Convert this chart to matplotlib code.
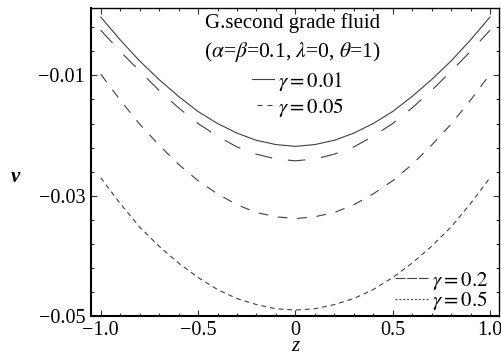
import matplotlib
matplotlib.use("Agg")
import matplotlib.pyplot as plt
import numpy as np
from matplotlib.lines import Line2D

# data
z = [-1.0, -0.9, -0.8, -0.7, -0.6, -0.5, -0.4, -0.3, -0.2, -0.1, 0.0,
     0.1, 0.2, 0.3, 0.4, 0.5, 0.6, 0.7, 0.8, 0.9, 1.0]
v_g001 = [-0.0003, -0.0041, -0.0076, -0.0107, -0.0135, -0.0160, -0.0180, -0.0196, -0.0208, -0.0215, -0.0218,
          -0.0215, -0.0208, -0.0196, -0.0180, -0.0160, -0.0135, -0.0107, -0.0076, -0.0041, -0.0003]
v_g005 = [-0.0025, -0.0060, -0.0093, -0.0125, -0.0154, -0.0180, -0.0201, -0.0219, -0.0231, -0.0239, -0.0242,
          -0.0239, -0.0231, -0.0219, -0.0201, -0.0180, -0.0154, -0.0125, -0.0093, -0.0060, -0.0025]
v_g02 = [-0.0098, -0.0141, -0.0181, -0.0216, -0.0248, -0.0275, -0.0297, -0.0315, -0.0328, -0.0335, -0.0338,
         -0.0335, -0.0328, -0.0315, -0.0297, -0.0275, -0.0248, -0.0216, -0.0181, -0.0141, -0.0098]
v_g05 = [-0.0270, -0.0313, -0.0352, -0.0384, -0.0412, -0.0436, -0.0456, -0.0471, -0.0481, -0.0488, -0.0490,
         -0.0488, -0.0481, -0.0471, -0.0456, -0.0436, -0.0412, -0.0384, -0.0352, -0.0313, -0.0270]
labels = [r"$\gamma=0.01$", r"$\gamma=0.05$", r"$\gamma=0.2$", r"$\gamma=0.5$"]
xticks = [-1.0, -0.5, 0.0, 0.5, 1.0]
xticklabels = ["\u22121.0", "\u22120.5", "0", "0.5", "1.0"]
yticks = [-0.05, -0.03, -0.01]
yticklabels = ["\u22120.05", "\u22120.03", "\u22120.01"]

plt.rcParams["font.family"] = ["Liberation Serif", "DejaVu Serif"]
plt.rcParams["mathtext.fontset"] = "stix"
plt.rcParams["lines.scale_dashes"] = False

fig = plt.figure(figsize=(5.01, 3.57), dpi=100)
ax = fig.add_axes([0.1816, 0.1148, 0.8144, 0.8628])

col = "0.25"
lw = 0.8
ax.plot(z, v_g001, color=col, lw=lw, ls="-")
ax.plot(z, v_g005, color=col, lw=lw, ls=(0, (12.5, 11.5)))
ax.plot(z, v_g02, color=col, lw=lw, ls=(0, (7, 7)))
ax.plot(z, v_g05, color=col, lw=lw, ls=(0, (3.5, 2.8)))

ax.set_xlim(-1.05, 1.046)
ax.set_ylim(-0.05, 0.0012)
ax.set_xticks(xticks)
ax.set_xticklabels(xticklabels)
ax.set_xticks(np.arange(-1.0, 1.01, 0.1), minor=True)
ax.set_yticks(yticks)
ax.set_yticklabels(yticklabels)
ax.set_yticks(np.arange(-0.05, 0.0011, 0.004), minor=True)

ax.tick_params(which="both", direction="in", top=True, right=True,
               labelsize=14.5, width=0.8, color="0.2")
ax.tick_params(which="major", length=4)
ax.tick_params(which="minor", length=2.2)
ax.tick_params(axis="y", pad=4.3)
ax.tick_params(axis="x", pad=3.5)

for s in ["left", "bottom"]:
    ax.spines[s].set_linewidth(1.5)
for s in ["top", "right"]:
    ax.spines[s].set_linewidth(1.0)

ax.set_xlabel("z", fontsize=15, style="italic")
ax.xaxis.label.set_va("center")
ax.xaxis.set_label_coords(0.5, -0.1)
ax.set_ylabel("v", fontsize=15, style="italic", fontweight="bold", rotation=0,
              va="center", ha="center")
ax.yaxis.set_label_coords(-0.186, 0.451)

ax.text(0.495, 0.951, "G.second grade fluid", transform=ax.transAxes,
        ha="center", va="center", fontsize=15)
ax.text(0.493, 0.857, r"($\alpha$=$\beta$=0.1, $\lambda$=0, $\theta$=1)",
        transform=ax.transAxes, ha="center", va="center", fontsize=15.5)

h_top = [Line2D([], [], color=col, lw=lw, ls="-"),
         Line2D([], [], color=col, lw=lw, ls=(3.6, (3.6, 3.6)))]
leg1 = ax.legend(h_top, labels[:2], loc="upper left", bbox_to_anchor=(0.395, 0.80),
                 frameon=False, fontsize=15, handlelength=1.06, handletextpad=0.2,
                 labelspacing=0.15, borderpad=0, borderaxespad=0)
ax.add_artist(leg1)

h_bot = [Line2D([], [], color=col, lw=lw, ls=(0, (7.2, 1.2))),
         Line2D([], [], color=col, lw=lw, ls=(0, (1.4, 1.4)))]
ax.legend(h_bot, labels[2:], loc="upper left", bbox_to_anchor=(0.745, 0.151),
          frameon=False, fontsize=15, handlelength=1.59, handletextpad=0.2,
          labelspacing=-0.1, borderpad=0, borderaxespad=0)

fig.savefig("out.png", dpi=100)
